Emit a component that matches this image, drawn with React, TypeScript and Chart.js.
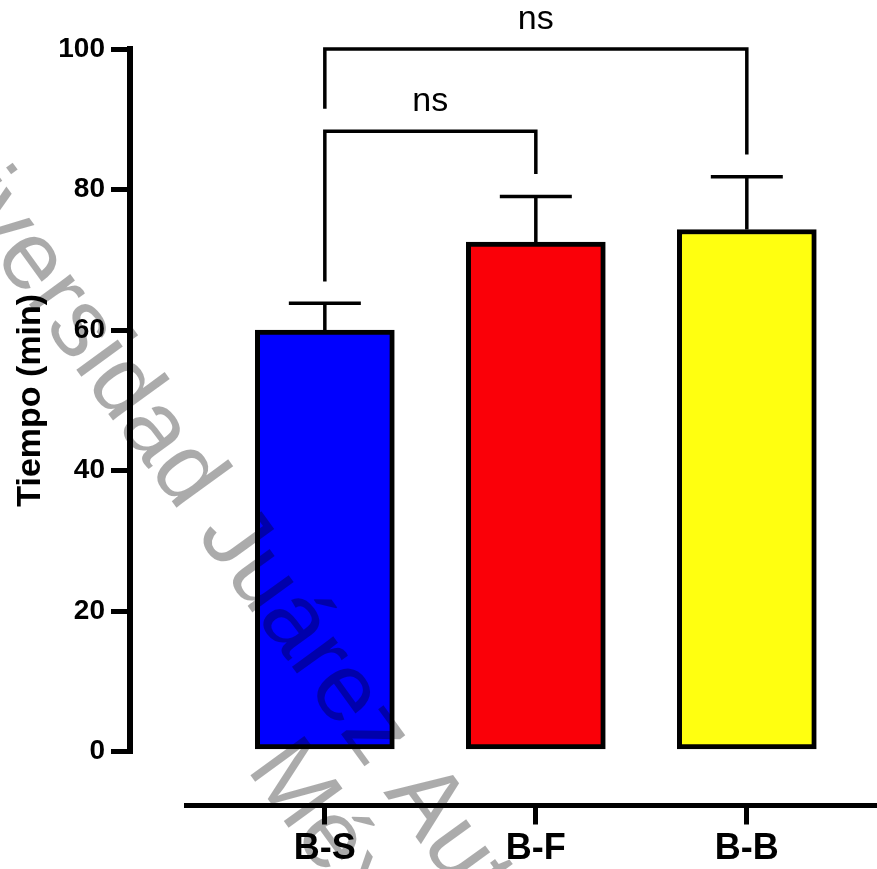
import React, { useEffect, useRef } from 'react';
import { Chart, registerables } from 'chart.js';

Chart.register(...registerables);

// ---- data ----
const categories = ['B-S', 'B-F', 'B-B'];
const means = [60.0, 72.5, 74.3];
const upperErrors = [3.8, 6.5, 7.5];
const barColors = ['#0000FF', '#FA0008', '#FFFF10'];
const yMin = 0;
const yMax = 100;
const yStep = 20;
const yTitle = 'Tiempo (min)';
const comparisons: [number, number][] = [[0, 1], [0, 2]];
const bracketTops = [88.3, 100];
const bracketLeftEnds = [66.9, 91.5];
const bracketRightEnds = [82.2, 85.0];
const bracketLabels = ['ns', 'ns'];
const watermarkLines = ['Universidad Juárez Autónoma de Tabasco.', 'México.'];

// ---- style ----
const FONT = 'Arial, "Liberation Sans", Helvetica, sans-serif';
const CAP_HALF = 36;
const THIN = 3.5;

const errorBarPlugin = {
  id: 'errorBars',
  afterDatasetsDraw(chart: any) {
    const { ctx } = chart;
    const x = chart.scales.x;
    const y = chart.scales.y;
    ctx.save();
    ctx.strokeStyle = '#000';
    ctx.lineWidth = THIN;
    ctx.lineCap = 'butt';
    means.forEach((m, i) => {
      const px = x.getPixelForValue(i);
      const y0 = y.getPixelForValue(m);
      const y1 = y.getPixelForValue(m + upperErrors[i]);
      ctx.beginPath();
      ctx.moveTo(px, y0);
      ctx.lineTo(px, y1);
      ctx.moveTo(px - CAP_HALF, y1);
      ctx.lineTo(px + CAP_HALF, y1);
      ctx.stroke();
    });
    ctx.restore();
  },
};

const bracketPlugin = {
  id: 'brackets',
  afterDraw(chart: any) {
    const { ctx } = chart;
    const x = chart.scales.x;
    const y = chart.scales.y;
    ctx.save();
    ctx.strokeStyle = '#000';
    ctx.fillStyle = '#000';
    ctx.lineWidth = THIN;
    ctx.lineCap = 'butt';
    ctx.lineJoin = 'miter';
    ctx.font = `34px ${FONT}`;
    ctx.textAlign = 'center';
    ctx.textBaseline = 'alphabetic';
    comparisons.forEach(([a, b], k) => {
      const xa = x.getPixelForValue(a);
      const xb = x.getPixelForValue(b);
      const yt = y.getPixelForValue(bracketTops[k]);
      ctx.beginPath();
      ctx.moveTo(xa, y.getPixelForValue(bracketLeftEnds[k]));
      ctx.lineTo(xa, yt);
      ctx.lineTo(xb, yt);
      ctx.lineTo(xb, y.getPixelForValue(bracketRightEnds[k]));
      ctx.stroke();
      ctx.fillText(bracketLabels[k], (xa + xb) / 2, yt - 20.5);
    });
    ctx.restore();
  },
};

const watermarkPlugin = {
  id: 'watermark',
  afterDraw(chart: any) {
    const { ctx } = chart;
    ctx.save();
    ctx.font = `97px ${FONT}`;
    ctx.fillStyle = 'rgba(0,0,0,0.33)';
    ctx.textAlign = 'left';
    ctx.textBaseline = 'alphabetic';
    // anchor: baseline origin of the "A" in "Autónoma"
    ctx.translate(383, 792);
    ctx.rotate((54 * Math.PI) / 180);
    const prefix = ctx.measureText('Universidad Juárez ').width;
    const w1 = ctx.measureText(watermarkLines[0]).width;
    const w2 = ctx.measureText(watermarkLines[1]).width;
    const x0 = -prefix;
    ctx.fillText(watermarkLines[0], x0, 0);
    ctx.fillText(watermarkLines[1], x0 + (w1 - w2) / 2, 97.4);
    ctx.restore();
  },
};

export default function App() {
  const ref = useRef<HTMLCanvasElement>(null);

  useEffect(() => {
    if (!ref.current) return;
    const chart = new Chart(ref.current, {
      type: 'bar',
      data: {
        datasets: [
          {
            data: means.map((m, i) => ({ x: i, y: m })),
            backgroundColor: barColors,
            borderColor: '#000',
            borderWidth: 5,
            borderSkipped: false,
            barThickness: 139,
          } as any,
        ],
      },
      options: {
        responsive: false,
        devicePixelRatio: 1,
        animation: false,
        layout: { padding: { top: 49, left: 0, right: 0, bottom: 0 } },
        plugins: {
          legend: { display: false },
          tooltip: { enabled: false },
        },
        scales: {
          x: {
            type: 'linear',
            position: 'bottom',
            weight: 1,
            offset: false,
            min: -0.658,
            max: 2.617,
            afterBuildTicks: (scale: any) => {
              scale.ticks = categories.map((_, i) => ({ value: i }));
            },
            afterFit: (scale: any) => {
              scale.height = 63.5;
            },
            ticks: {
              callback: (v: any) => categories[v] ?? '',
              autoSkip: false,
              maxRotation: 0,
              minRotation: 0,
              padding: 3,
              color: '#000',
              font: { family: FONT, size: 36, weight: 'bold' },
            },
            grid: {
              display: true,
              offset: false,
              drawOnChartArea: false,
              drawTicks: true,
              tickLength: 19,
              color: '#000',
              lineWidth: 5,
            },
            border: { display: true, color: '#000', width: 5 },
          },
          xPad: {
            type: 'linear',
            axis: 'x',
            position: 'bottom',
            weight: 0,
            display: true,
            ticks: { display: false },
            grid: { display: false },
            border: { display: false },
            afterFit: (scale: any) => {
              scale.height = 54;
            },
          },
          y: {
            type: 'linear',
            position: 'left',
            weight: 1,
            min: yMin,
            max: yMax,
            afterFit: (scale: any) => {
              scale.width = 130;
            },
            ticks: {
              stepSize: yStep,
              padding: 6,
              color: '#000',
              font: { family: FONT, size: 28, weight: 'bold' },
            },
            grid: {
              display: true,
              drawOnChartArea: false,
              drawTicks: true,
              tickLength: 19,
              color: '#000',
              lineWidth: 5,
            },
            border: { display: true, color: '#000', width: 6 },
            title: {
              display: true,
              text: yTitle,
              color: '#000',
              font: { family: FONT, size: 34, weight: 'bold' },
              padding: { top: 10, bottom: 0 },
            },
          },
          yPad: {
            type: 'linear',
            axis: 'y',
            position: 'left',
            weight: 0,
            display: true,
            ticks: { display: false },
            grid: { display: false },
            border: { display: false },
            afterFit: (scale: any) => {
              scale.width = 56;
            },
          },
        } as any,
      },
      plugins: [errorBarPlugin, bracketPlugin, watermarkPlugin],
    });
    return () => chart.destroy();
  }, []);

  return (
    <div style={{ position: 'absolute', left: 0, top: 0, width: 877, height: 869, background: '#fff' }}>
      <canvas ref={ref} width={877} height={869} style={{ display: 'block' }} />
    </div>
  );
}
